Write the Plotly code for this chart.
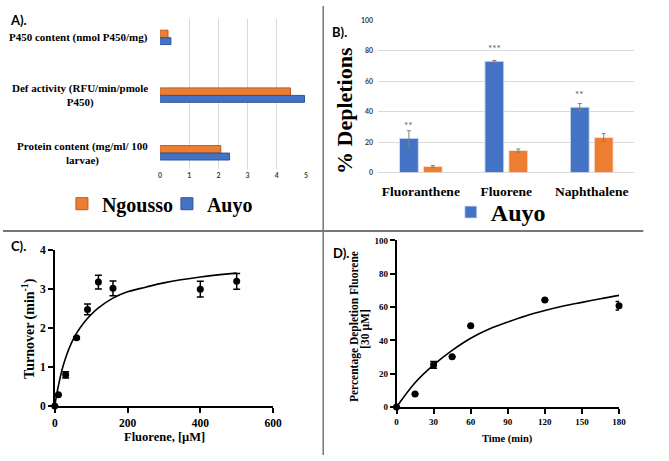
import plotly.graph_objects as go

W, H = 669, 461
def px(x): return x / W
def py(y): return 1 - y / H

# ---------------- Data ----------------
# Panel A
a_categories = ["Protein content (mg/ml/ 100<br>larvae)",
                "Def activity (RFU/min/pmole<br>P450)",
                "P450 content (nmol P450/mg)"]
a_ngousso = [2.08, 4.47, 0.27]
a_auyo = [2.38, 4.95, 0.37]

# Panel B
b_categories = ["Fluoranthene", "Fluorene", "Naphthalene"]
b_auyo = [22.5, 73.2, 43.0]
b_auyo_err = [5.0, 0.6, 2.4]
b_ngousso = [4.0, 14.5, 23.0]
b_ngousso_err = [0.6, 1.0, 2.6]
b_stars = ["**", "***", "**"]
b_star_y = [31, 82, 52]

# Panel C
c_x = [0, 10, 30, 60, 90, 120, 160, 400, 500]
c_y = [0, 0.29, 0.80, 1.75, 2.48, 3.18, 3.02, 3.00, 3.20]
c_err = [0, 0, 0.08, 0.03, 0.14, 0.175, 0.19, 0.2, 0.2]
c_fit_x = [0, 5, 10, 20, 30, 45, 60, 80, 100, 120, 160, 200, 250, 300, 400, 500]
c_fit_y = [0, 0.28, 0.52, 0.93, 1.24, 1.60, 1.87, 2.14, 2.35, 2.52, 2.77, 2.93, 3.05, 3.16, 3.31, 3.41]

# Panel D
d_x = [0, 15, 30, 45, 60, 120, 180]
d_y = [0, 7.8, 25.3, 30.2, 48.7, 64.3, 60.8]
d_err = [0, 0, 2.0, 0, 0, 0, 2.5]
d_fit_x = [0, 15, 30, 45, 60, 75, 90, 105, 120, 135, 150, 165, 180]
d_fit_y = [0, 14.6, 25.3, 34.0, 41.3, 46.8, 51.0, 54.8, 57.9, 60.6, 62.8, 65.0, 67.0]

# ---------------- Styles ----------------
ORANGE = "#ED7D31"
BLUE = "#4472C4"
SERIF = "Liberation Serif"
SANS = "Lato"

fig = go.Figure()

# Panel A bars (horizontal)
fig.add_trace(go.Bar(y=a_categories, x=a_ngousso, orientation="h", name="Ngousso",
                     marker=dict(color=ORANGE, line=dict(color="#B85A1C", width=1)),
                     offset=0.0, width=0.13, xaxis="x", yaxis="y", legend="legend"))
fig.add_trace(go.Bar(y=a_categories, x=a_auyo, orientation="h", name="Auyo",
                     marker=dict(color=BLUE, line=dict(color="#2F5597", width=1)),
                     offset=-0.12, width=0.12, xaxis="x", yaxis="y", legend="legend"))

# Panel B bars
fig.add_trace(go.Bar(x=b_categories, y=b_auyo, name="Auyo",
                     marker=dict(color=BLUE, line=dict(color="#DAE3F3", width=0.8)),
                     error_y=dict(type="data", array=b_auyo_err, color="#7F7F7F", thickness=1, width=2),
                     offset=-0.25, width=0.22, xaxis="x2", yaxis="y2", legend="legend2"))
fig.add_trace(go.Bar(x=b_categories, y=b_ngousso, name="Ngousso", showlegend=False,
                     marker=dict(color=ORANGE, line=dict(color="#FBE5D6", width=0.8)),
                     error_y=dict(type="data", array=b_ngousso_err, color="#7F7F7F", thickness=1, width=2),
                     offset=0.03, width=0.22, xaxis="x2", yaxis="y2"))

# Panel C
fig.add_trace(go.Scatter(x=c_fit_x, y=c_fit_y, mode="lines", line=dict(color="black", width=1.6, shape="spline"),
                         showlegend=False, xaxis="x3", yaxis="y3", cliponaxis=False, hoverinfo="skip"))
fig.add_trace(go.Scatter(x=c_x, y=c_y, mode="markers", marker=dict(color="black", size=7),
                         error_y=dict(type="data", array=c_err, color="black", thickness=1.5, width=3.5),
                         showlegend=False, xaxis="x3", yaxis="y3", cliponaxis=False))

# Panel D
fig.add_trace(go.Scatter(x=d_fit_x, y=d_fit_y, mode="lines", line=dict(color="black", width=1.6, shape="spline"),
                         showlegend=False, xaxis="x4", yaxis="y4", cliponaxis=False, hoverinfo="skip"))
fig.add_trace(go.Scatter(x=d_x, y=d_y, mode="markers", marker=dict(color="black", size=7),
                         error_y=dict(type="data", array=d_err, color="black", thickness=1.5, width=3.5),
                         showlegend=False, xaxis="x4", yaxis="y4", cliponaxis=False))

small_tick = dict(family=SANS, size=7, color="#404040", weight="bold")
serif_tick_c = dict(family=SERIF, size=11.5, color="black", weight="bold")
serif_tick_d = dict(family=SERIF, size=9, color="black", weight="bold")

line_axis = dict(showline=True, linecolor="black", linewidth=1.5, ticks="outside", ticklen=5,
                 tickwidth=1.5, tickcolor="black", showgrid=False, zeroline=False)

fig.update_layout(
    width=W, height=H, margin=dict(l=0, r=0, t=0, b=0),
    paper_bgcolor="white", plot_bgcolor="white",
    barmode="overlay",
    # Panel A
    xaxis=dict(domain=[px(160), px(308.5)], range=[0, 5], dtick=1, showgrid=True, gridcolor="#D9D9D9",
               gridwidth=1, zeroline=False, showline=False, ticks="", tickfont=small_tick,
               ticklabelstandoff=1, anchor="y"),
    yaxis=dict(domain=[py(167), py(13)], range=[-0.27, 2.33], showticklabels=False, showgrid=False,
               zeroline=False, showline=False, ticks="", anchor="x",
               categoryorder="array", categoryarray=a_categories),
    # Panel B
    xaxis2=dict(domain=[px(382), px(643)], range=[-0.5, 2.5], showgrid=False, zeroline=False, showline=False,
                ticks="", tickfont=dict(family=SERIF, size=13.5, color="black", weight="bold"),
                ticklabelstandoff=9, anchor="y2"),
    yaxis2=dict(domain=[py(171), py(15)], range=[0, 100], dtick=20, showgrid=True, gridcolor="#D9D9D9",
                zeroline=True, zerolinecolor="#D9D9D9", zerolinewidth=1, showline=False, ticks="",
                tickfont=small_tick, ticklabelstandoff=4, anchor="x2"),
    # Panel C
    xaxis3=dict(domain=[px(52.7), px(275)], range=[0, 600], dtick=200, tickfont=serif_tick_c,
                anchor="y3", **line_axis),
    yaxis3=dict(domain=[py(410.7), py(250.7)], range=[0, 4], dtick=1, tickfont=serif_tick_c,
                anchor="x3", ticklabelstandoff=0, **line_axis),
    # Panel D
    xaxis4=dict(domain=[px(400.7), px(627.3)], range=[0, 180], dtick=30, tickfont=serif_tick_d,
                anchor="y4", **line_axis),
    yaxis4=dict(domain=[py(411.7), py(240.7)], range=[0, 100], dtick=20, tickfont=serif_tick_d,
                anchor="x4", ticklabelstandoff=0, **line_axis),
    legend=dict(orientation="h", x=px(60), y=py(203), xanchor="left", yanchor="middle",
                bgcolor="rgba(0,0,0,0)", font=dict(family=SERIF, size=20, color="black", weight="bold"),
                traceorder="normal", itemclick=False, entrywidth=60, entrywidthmode="pixels"),
    legend2=dict(orientation="h", x=px(456), y=py(212), xanchor="left", yanchor="middle",
                 bgcolor="rgba(0,0,0,0)", font=dict(family=SERIF, size=24, color="black", weight="bold")),
)

ann = []
# Panel labels
for txt, x, y in [("A).", 5, 14), ("B).", 333, 27), ("C).", 6, 246), ("D).", 334, 254)]:
    ann.append(dict(text=txt, x=px(x), y=py(y), xref="paper", yref="paper", xanchor="left",
                    yanchor="middle", showarrow=False,
                    font=dict(family=SANS, size=13, color="black", weight="bold")))
# Panel A category labels (centered lines)
for cat in a_categories:
    ann.append(dict(text=cat, x=px(150), y=cat, xref="paper", yref="y", xanchor="right",
                    yanchor="middle", align="center", showarrow=False,
                    font=dict(family=SERIF, size=11, color="black", weight="bold")))
# Panel B y title & stars
ann.append(dict(text="% Depletions", x=px(347), y=py(107), xref="paper", yref="paper", textangle=-90,
                xanchor="center", yanchor="middle",
                showarrow=False, font=dict(family=SERIF, size=22, color="black", weight="bold")))
for cat, s, sy in zip(b_categories, b_stars, b_star_y):
    ann.append(dict(text=s, x=cat, y=sy, xref="x2", yref="y2", xshift=-12, showarrow=False,
                    xanchor="center", yanchor="middle", font=dict(family=SANS, size=10, color="#595959")))
# Panel C titles
ann.append(dict(text="Turnover (min<sup>-1</sup>)", x=px(26), y=py(331), xref="paper", yref="paper",
                textangle=-90, showarrow=False, xanchor="center", yanchor="middle",
                font=dict(family=SERIF, size=14, color="black", weight="bold")))
ann.append(dict(text="Fluorene, [µM]", x=px(164), y=py(443), xref="paper", yref="paper",
                xanchor="center", yanchor="middle",
                showarrow=False, font=dict(family=SERIF, size=12.5, color="black", weight="bold")))
# Panel D titles
ann.append(dict(text="Percentage Depletion Fluorene", x=px(358), y=py(329), xref="paper", yref="paper",
                textangle=-90, showarrow=False, xanchor="center", yanchor="middle",
                font=dict(family=SERIF, size=11.5, color="black", weight="bold")))
ann.append(dict(text="[30 µM]", x=px(369), y=py(331), xref="paper", yref="paper",
                textangle=-90, showarrow=False, xanchor="center", yanchor="middle",
                font=dict(family=SERIF, size=11.5, color="black", weight="bold")))
ann.append(dict(text="Time (min)", x=px(514), y=py(445), xref="paper", yref="paper",
                xanchor="center", yanchor="middle",
                showarrow=False, font=dict(family=SERIF, size=10.5, color="black", weight="bold")))
fig.update_layout(annotations=ann)

# Panel dividers
fig.update_layout(shapes=[
    dict(type="line", xref="paper", yref="paper", x0=px(326), x1=px(326), y0=0, y1=1,
         line=dict(color="#333333", width=1)),
    dict(type="line", xref="paper", yref="paper", x0=0, x1=px(652), y0=py(231), y1=py(231),
         line=dict(color="#777777", width=2)),
])

fig.write_html("out.html")
